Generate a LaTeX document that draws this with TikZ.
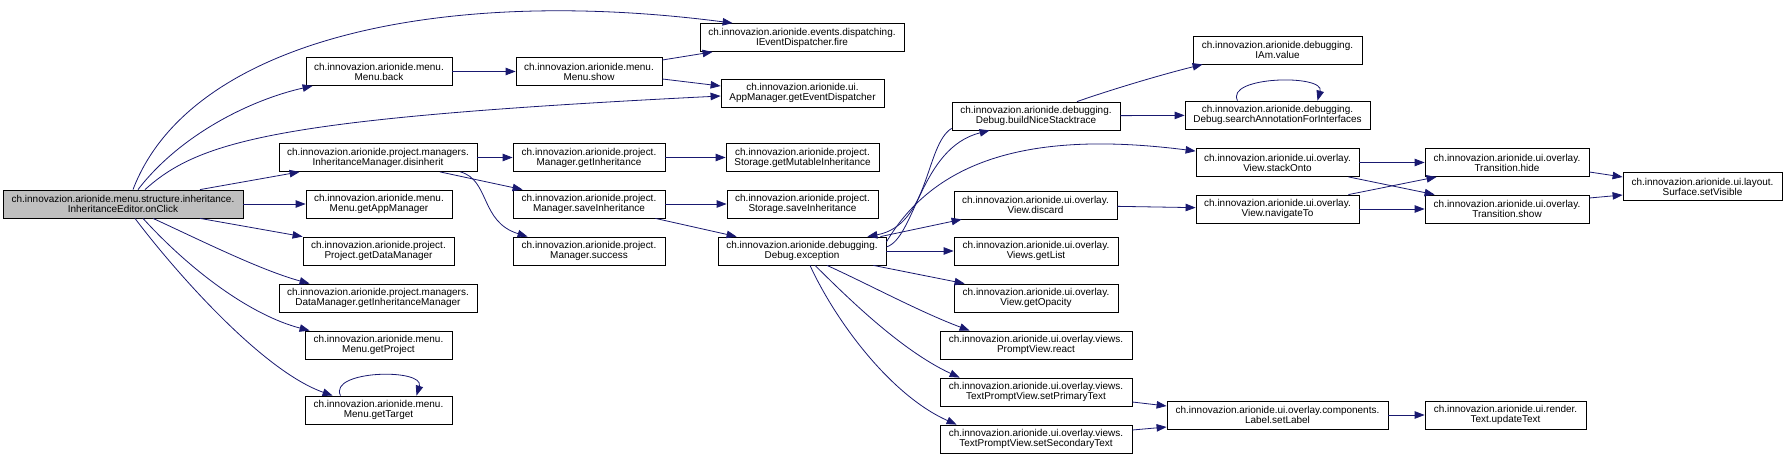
\documentclass[tikz,border=0pt]{standalone}
\usepackage{fontspec}
\setmainfont{Liberation Sans}
\usetikzlibrary{arrows.meta}
\definecolor{edgeblue}{HTML}{191970}
\definecolor{rootgrey}{HTML}{BFBFBF}
\begin{document}
\begin{tikzpicture}[x=1bp, y=-1bp, font=\fontsize{10}{10}\selectfont, line join=miter,
	fn/.style={draw=black, line width=0.8bp, fill=white, align=center, inner sep=0pt, minimum height=28bp},
	call/.style={draw=edgeblue, line width=0.8bp, -{Triangle[length=10bp, width=7.5bp]}}]
	\useasboundingbox (0,0) rectangle (1786,458);
	% Spalte 0
	\node[fn, fill=rootgrey, minimum width=240bp] (onClick) at (123,204) {ch.innovazion.arionide.menu.structure.inheritance.\\InheritanceEditor.onClick};
	% Spalte 1
	\node[fn, minimum width=146bp] (back) at (379,71.5) {ch.innovazion.arionide.menu.\\Menu.back};
	\node[fn, minimum width=198bp] (disinherit) at (378,157.5) {ch.innovazion.arionide.project.managers.\\InheritanceManager.disinherit};
	\node[fn, minimum width=146bp] (getAppManager) at (379,204) {ch.innovazion.arionide.menu.\\Menu.getAppManager};
	\node[fn, minimum width=151bp] (getDataManager) at (378.5,251) {ch.innovazion.arionide.project.\\Project.getDataManager};
	\node[fn, minimum width=198bp] (getInhManager) at (378,298) {ch.innovazion.arionide.project.managers.\\DataManager.getInheritanceManager};
	\node[fn, minimum width=147bp] (getProject) at (378.5,345) {ch.innovazion.arionide.menu.\\Menu.getProject};
	\node[fn, minimum width=147bp] (getTarget) at (378.5,410) {ch.innovazion.arionide.menu.\\Menu.getTarget};
	% Spalte 2
	\node[fn, minimum width=146bp] (menuShow) at (589,71.5) {ch.innovazion.arionide.menu.\\Menu.show};
	\node[fn, minimum width=152bp] (getInheritance) at (589,157.5) {ch.innovazion.arionide.project.\\Manager.getInheritance};
	\node[fn, minimum width=152bp] (saveInheritance) at (589,204) {ch.innovazion.arionide.project.\\Manager.saveInheritance};
	\node[fn, minimum width=152bp] (success) at (589,251) {ch.innovazion.arionide.project.\\Manager.success};
	% Spalte 3
	\node[fn, minimum width=204bp] (fire) at (802,37.5) {ch.innovazion.arionide.events.dispatching.\\IEventDispatcher.fire};
	\node[fn, minimum width=163bp] (getDispatcher) at (802.5,93) {ch.innovazion.arionide.ui.\\AppManager.getEventDispatcher};
	\node[fn, minimum width=153bp] (getMutable) at (802.5,157.5) {ch.innovazion.arionide.project.\\Storage.getMutableInheritance};
	\node[fn, minimum width=151bp] (storageSave) at (802.5,204) {ch.innovazion.arionide.project.\\Storage.saveInheritance};
	\node[fn, minimum width=168bp] (exception) at (802,251) {ch.innovazion.arionide.debugging.\\Debug.exception};
	% Spalte 4
	\node[fn, minimum width=168bp] (buildNice) at (1036,116) {ch.innovazion.arionide.debugging.\\Debug.buildNiceStacktrace};
	\node[fn, minimum width=163bp] (discard) at (1035.5,205) {ch.innovazion.arionide.ui.overlay.\\View.discard};
	\node[fn, minimum width=164bp] (getList) at (1036,251) {ch.innovazion.arionide.ui.overlay.\\Views.getList};
	\node[fn, minimum width=164bp] (getOpacity) at (1036,298) {ch.innovazion.arionide.ui.overlay.\\View.getOpacity};
	\node[fn, minimum width=192bp] (react) at (1036,345) {ch.innovazion.arionide.ui.overlay.views.\\PromptView.react};
	\node[fn, minimum width=192bp] (primaryText) at (1036,392) {ch.innovazion.arionide.ui.overlay.views.\\TextPromptView.setPrimaryText};
	\node[fn, minimum width=192bp] (secondaryText) at (1036,439) {ch.innovazion.arionide.ui.overlay.views.\\TextPromptView.setSecondaryText};
	% Spalte 5
	\node[fn, minimum width=169bp] (iamValue) at (1277.5,50) {ch.innovazion.arionide.debugging.\\IAm.value};
	\node[fn, minimum width=185bp] (searchAnno) at (1277.5,115) {ch.innovazion.arionide.debugging.\\Debug.searchAnnotationForInterfaces};
	\node[fn, minimum width=163bp] (stackOnto) at (1277.5,162.5) {ch.innovazion.arionide.ui.overlay.\\View.stackOnto};
	\node[fn, minimum width=163bp] (navigateTo) at (1277.5,209) {ch.innovazion.arionide.ui.overlay.\\View.navigateTo};
	\node[fn, minimum width=221bp] (setLabel) at (1277.5,415) {ch.innovazion.arionide.ui.overlay.components.\\Label.setLabel};
	% Spalte 6
	\node[fn, minimum width=164bp] (hide) at (1507,162.5) {ch.innovazion.arionide.ui.overlay.\\Transition.hide};
	\node[fn, minimum width=164bp] (transShow) at (1507,209) {ch.innovazion.arionide.ui.overlay.\\Transition.show};
	\node[fn, minimum width=161bp] (updateText) at (1505.5,415) {ch.innovazion.arionide.ui.render.\\Text.updateText};
	% Spalte 7
	\node[fn, minimum width=159bp] (setVisible) at (1702.5,186.5) {ch.innovazion.arionide.ui.layout.\\Surface.setVisible};

	% Aufrufe von onClick
	\draw[call] ([xshift=10bp]onClick.north) .. controls (190,40) and (440,-15) .. ([xshift=33bp]fire.north west);
	\draw[call] ([xshift=15bp]onClick.north) .. controls (180,135) and (250,100) .. ([xshift=7bp]back.south west);
	\draw[call] ([xshift=22bp]onClick.north) .. controls (200,140) and (280,118) .. ([yshift=-3bp]getDispatcher.west);
	\draw[call] ([xshift=77bp]onClick.north) -- ([xshift=21bp]disinherit.south west);
	\draw[call] (onClick) -- (getAppManager);
	\draw[call] ([xshift=77bp]onClick.south) -- (getDataManager.north west);
	\draw[call] ([xshift=30bp]onClick.south) .. controls (200,240) and (260,270) .. ([xshift=31bp]getInhManager.north west);
	\draw[call] ([xshift=20bp]onClick.south) .. controls (190,270) and (250,315) .. ([xshift=5bp]getProject.north west);
	\draw[call] ([xshift=12bp]onClick.south) .. controls (170,265) and (260,370) .. ([xshift=28bp]getTarget.north west);
	\draw[call] ([xshift=-38bp]getTarget.north) .. controls (328,370) and (425,368) .. ([xshift=38bp]getTarget.north);

	% Spalte 1 -> 2
	\draw[call] (back) -- (menuShow);
	\draw[call] ([yshift=11.5bp]menuShow.east) -- ([xshift=13bp]fire.south west);
	\draw[call] ([yshift=-7.5bp]menuShow.east) -- ([yshift=7bp]getDispatcher.west);
	\draw[call] (disinherit) -- (getInheritance);
	\draw[call] ([xshift=62bp]disinherit.south) -- ([xshift=10bp]saveInheritance.north west);
	\draw[call] ([xshift=-17bp]disinherit.south east) .. controls (490,180) and (480,222) .. ([xshift=15bp]success.north west);
	\draw[call] (getInheritance) -- (getMutable);
	\draw[call] (saveInheritance) -- (storageSave);
	\draw[call] ([xshift=-10bp]saveInheritance.south east) -- ([xshift=19bp]exception.north west);

	% Debug.exception
	\draw[call] ([yshift=2bp]buildNice.south west) .. controls (925,145) and (930,225) .. ([xshift=-19bp]exception.north east);
	\draw[call] ([yshift=4bp]exception.east) .. controls (915,238) and (920,148) .. ([xshift=38bp]buildNice.south west);
	\draw[call] ([yshift=9bp]exception.east) .. controls (935,160) and (1030,130) .. ([yshift=-3bp]stackOnto.north west);
	\draw[call] ([xshift=-6bp]exception.north east) -- ([xshift=8bp]discard.south west);
	\draw[call] (exception) -- (getList);
	\draw[call] ([xshift=-13bp]exception.south east) -- ([xshift=11bp]getOpacity.north west);
	\draw[call] ([xshift=25bp]exception.south) .. controls (870,285) and (920,312) .. ([xshift=30bp]react.north west);
	\draw[call] ([xshift=13bp]exception.south) .. controls (845,295) and (900,350) .. ([xshift=20bp]primaryText.north west);
	\draw[call] ([xshift=8bp]exception.south) .. controls (835,320) and (890,395) .. ([xshift=17bp]secondaryText.north west);

	% Spalte 4 -> 5
	\draw[call] ([xshift=41bp]buildNice.north) .. controls (1110,90) and (1160,75) .. ([xshift=10bp]iamValue.south west);
	\draw[call] (buildNice) -- (searchAnno);
	\draw[call] ([xshift=-40bp]searchAnno.north) .. controls (1225,76) and (1325,74) .. ([xshift=40bp]searchAnno.north);
	\draw[call] (discard) -- (navigateTo);
	\draw[call] ([yshift=-10bp]primaryText.east) -- ([yshift=9bp]setLabel.west);
	\draw[call] ([yshift=9bp]secondaryText.east) -- ([yshift=-12bp]setLabel.west);

	% Spalte 5 -> 6 -> 7
	\draw[call] (stackOnto) -- (hide);
	\draw[call] ([xshift=-11bp]stackOnto.south east) -- ([xshift=10bp]transShow.north west);
	\draw[call] ([xshift=-11bp]navigateTo.north east) -- ([xshift=12bp]hide.south west);
	\draw[call] (navigateTo) -- (transShow);
	\draw[call] (setLabel) -- (updateText);
	\draw[call] ([yshift=-9.5bp]hide.east) -- ([yshift=9.5bp]setVisible.west);
	\draw[call] ([yshift=11bp]transShow.east) -- ([yshift=-8.5bp]setVisible.west);
\end{tikzpicture}
\end{document}
